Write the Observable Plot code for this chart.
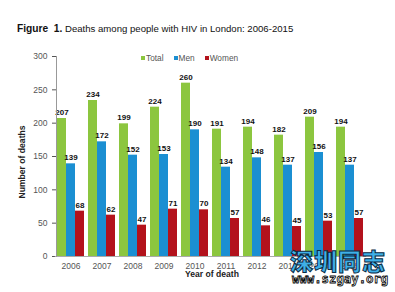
<!DOCTYPE html>
<html><head><meta charset="utf-8">
<script src="https://cdn.jsdelivr.net/npm/d3@7"></script>
<script src="https://cdn.jsdelivr.net/npm/@observablehq/plot@0.6"></script>
<style>
body{margin:0;background:#fff;}
#wrap{position:relative;width:395px;height:292px;overflow:hidden;font-family:"Liberation Sans",Arial,sans-serif;}
#title{position:absolute;left:17px;top:23px;font-size:9.6px;color:#111;white-space:nowrap;}
#title b{font-size:10.2px;}
#legend{position:absolute;left:141px;top:53px;font-size:8.3px;color:#555;white-space:nowrap;}
#legend span{margin-right:10px;}
#legend i{display:inline-block;width:4px;height:4px;margin-right:1px;vertical-align:1px;}
#ylab{position:absolute;left:22px;top:162px;transform:translate(-50%,-50%) rotate(-90deg);font-size:8.6px;font-weight:bold;color:#222;white-space:nowrap;}
#xlab{position:absolute;left:212px;top:269px;transform:translateX(-50%);font-size:8.6px;font-weight:bold;color:#222;white-space:nowrap;}
#wm1{position:absolute;left:290px;top:243px;font-family:"Noto Sans CJK SC";font-weight:900;font-size:23px;color:#3fb0e8;-webkit-text-stroke:1px #0a2a44;letter-spacing:1px;white-space:nowrap;}
#wm2{position:absolute;left:292px;top:272px;font-family:"DejaVu Sans Mono",monospace;font-weight:bold;font-size:12.3px;color:#fff;-webkit-text-stroke:0.8px #000;white-space:nowrap;}
svg{position:absolute;left:0;top:0;}
</style></head>
<body><div id="wrap">
<div id="title"><b>Figure&nbsp; 1.</b> Deaths among people with HIV in London: 2006-2015</div>
<div id="legend"></div>
<div id="ylab">Number of deaths</div>
<div id="xlab">Year of death</div>
</div>
<script>
const years = [2006, 2007, 2008, 2009, 2010, 2011, 2012, 2013, 2014, 2015];
const total = [207, 234, 199, 224, 260, 191, 194, 182, 209, 194];
const men   = [139, 172, 152, 153, 190, 134, 148, 137, 156, 137];
const women = [68, 62, 47, 71, 70, 57, 46, 45, 53, 57];
const series = ["Total", "Men", "Women"];
const colors = ["#8cc63f", "#1b8fd2", "#b3121c"];
const yTicks = [0, 50, 100, 150, 200, 250, 300];

const data = years.flatMap((yr, i) => [
  {year: yr, series: "Total", value: total[i]},
  {year: yr, series: "Men", value: men[i]},
  {year: yr, series: "Women", value: women[i]}
]);

const chart = Plot.plot({
  width: 395, height: 292,
  marginLeft: 53, marginRight: 28, marginTop: 56, marginBottom: 36,
  style: {fontFamily: "'Liberation Sans', Arial, sans-serif", fontSize: "8.5px", color: "#555", background: "transparent"},
  fx: {domain: years, paddingInner: 0.06, paddingOuter: 0.02, label: null, tickSize: 0, tickPadding: 6, tickFormat: d => String(d)},
  x: {domain: series, padding: 0, axis: null},
  y: {domain: [0, 300], ticks: yTicks, label: null, tickSize: 4, tickPadding: 5},
  color: {domain: series, range: colors},
  marks: [
    Plot.barY(data, {fx: "year", x: "series", y: "value", fill: "series"}),
    Plot.text(data, {fx: "year", x: "series", y: "value", text: d => d.value, dy: -6, fontWeight: "bold", fontSize: 8, fill: "#111"}),
    Plot.frame({anchor: "bottom", stroke: "#aaa", insetLeft: -1.2, insetRight: -1.2}),
    Plot.frame({anchor: "left", stroke: "#999", facetAnchor: "left"})
  ]
});
document.getElementById("wrap").appendChild(chart);

const lg = document.getElementById("legend");
series.forEach((s, i) => {
  const sp = document.createElement("span");
  sp.innerHTML = `<i style="background:${colors[i]}"></i>${s}`;
  lg.appendChild(sp);
});
const w1 = document.createElement("div"); w1.id = "wm1"; w1.textContent = "深圳同志";
const w2 = document.createElement("div"); w2.id = "wm2"; w2.textContent = "www.szgay.org";
document.getElementById("wrap").append(w1, w2);
</script>
</body></html>
